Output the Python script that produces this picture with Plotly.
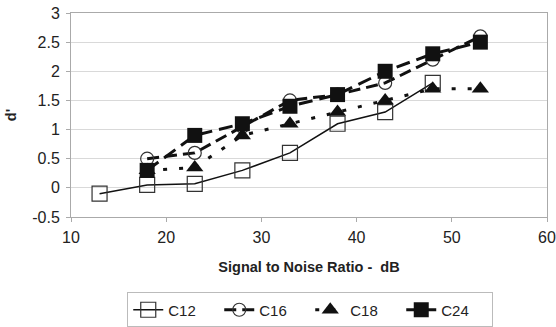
import plotly.graph_objects as go

snr_c12 = [13, 18, 23, 28, 33, 38, 43, 48]
c12 = [-0.1, 0.05, 0.07, 0.3, 0.6, 1.1, 1.3, 1.8]
snr = [18, 23, 28, 33, 38, 43, 48, 53]
c16 = [0.5, 0.6, 1.05, 1.5, 1.6, 1.8, 2.2, 2.6]
c18 = [0.3, 0.35, 0.9, 1.1, 1.3, 1.5, 1.7, 1.7]
c24 = [0.3, 0.9, 1.1, 1.4, 1.6, 2.0, 2.3, 2.5]

y_ticks = [-0.5, 0, 0.5, 1, 1.5, 2, 2.5, 3]
y_labels = ["-0.5", "0", "0.5", "1", "1.5", "2", "2.5", "3"]
x_ticks = [10, 20, 30, 40, 50, 60]

fig = go.Figure()
fig.add_trace(go.Scatter(x=snr_c12, y=c12, name="C12", mode="lines+markers",
                         line=dict(color="#111111", width=1.5),
                         marker=dict(symbol="square-open", size=15, color="#333333",
                                     line=dict(width=1.2, color="#333333"))))
fig.add_trace(go.Scatter(x=snr, y=c16, name="C16", mode="lines+markers",
                         line=dict(color="#111111", width=3, dash="12px,6px"),
                         marker=dict(symbol="circle-open", size=13, color="#333333",
                                     line=dict(width=1.2, color="#333333"))))
fig.add_trace(go.Scatter(x=snr, y=c18, name="C18", mode="lines+markers",
                         line=dict(color="#111111", width=3, dash="4px,12px"),
                         marker=dict(symbol="triangle-up", size=15, color="#111111")))
fig.add_trace(go.Scatter(x=snr, y=c24, name="C24", mode="lines+markers",
                         line=dict(color="#111111", width=3, dash="14px,7px"),
                         marker=dict(symbol="square", size=15, color="#111111")))

font = "Liberation Sans, Arial, sans-serif"
fig.update_layout(
    width=556, height=327,
    margin=dict(l=71, r=9, t=13, b=110, autoexpand=False),
    paper_bgcolor="white", plot_bgcolor="white",
    font=dict(family=font, size=16, color="#222222"),
    showlegend=True,
    legend=dict(orientation="h", x=0.558, xref="container", xanchor="center",
                y=0.052, yref="container", yanchor="middle",
                bordercolor="#bbbbbb", borderwidth=1, font=dict(size=15),
                entrywidth=46, entrywidthmode="pixels", tracegroupgap=0),
    xaxis=dict(range=[10, 60], tickvals=x_ticks, showgrid=False,
               showline=True, linecolor="#aaaaaa", linewidth=1, mirror=True,
               ticks="outside", ticklen=4, tickcolor="#aaaaaa", ticklabelstandoff=2,
               title=dict(text="<b>Signal to Noise Ratio -  dB</b>", font=dict(size=14.5), standoff=16),
               zeroline=False),
    yaxis=dict(range=[-0.5, 3], tickvals=y_ticks, ticktext=y_labels,
               showgrid=True, gridcolor="#d9d9d9", gridwidth=1,
               showline=True, linecolor="#aaaaaa", linewidth=1, mirror=True,
               ticks="outside", ticklen=4, tickcolor="#aaaaaa", ticklabelstandoff=3,
               title=dict(text="<b>d'</b>", font=dict(size=14.5), standoff=12),
               zeroline=False),
)

fig.write_html("out.html")
